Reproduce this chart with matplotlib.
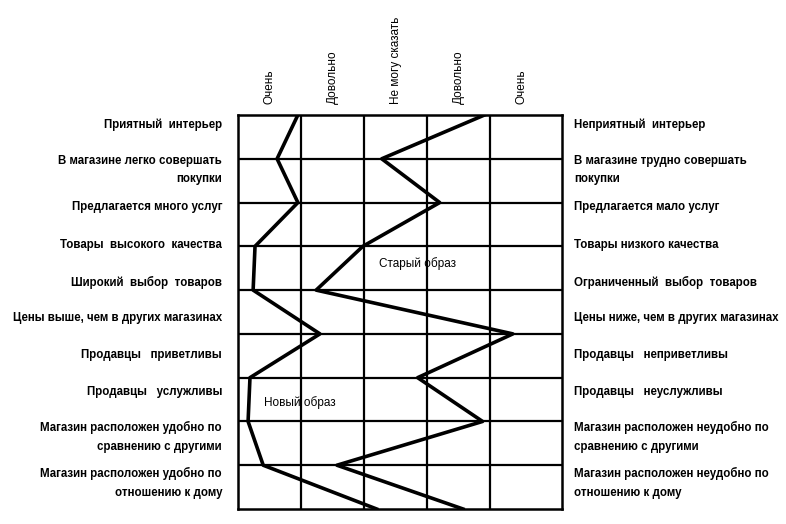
import matplotlib.pyplot as plt
import numpy as np

plt.rcParams['font.family'] = ['Liberation Sans', 'DejaVu Sans']

# Шкала
scale_labels = ['Очень', 'Довольно', 'Не могу сказать', 'Довольно', 'Очень']

left_labels = [
    'Приятный  интерьер',
    'В магазине легко совершать\nпокупки',
    'Предлагается много услуг',
    'Товары  высокого  качества',
    'Широкий  выбор  товаров',
    'Цены выше, чем в других магазинах',
    'Продавцы   приветливы',
    'Продавцы   услужливы',
    'Магазин расположен удобно по\nсравнению с другими',
    'Магазин расположен удобно по\nотношению к дому',
]
right_labels = [
    'Неприятный  интерьер',
    'В магазине трудно совершать\nпокупки',
    'Предлагается мало услуг',
    'Товары низкого качества',
    'Ограниченный  выбор  товаров',
    'Цены ниже, чем в других магазинах',
    'Продавцы   неприветливы',
    'Продавцы   неуслужливы',
    'Магазин расположен неудобно по\nсравнению с другими',
    'Магазин расположен неудобно по\nотношению к дому',
]

# значения по шкале (0 = левый край, 5 = правый край)
new_image = [0.95, 0.62, 0.95, 0.27, 0.24, 1.30, 0.19, 0.16, 0.40, 2.20]
old_image = [3.91, 2.28, 3.20, 1.98, 1.24, 4.36, 2.85, 3.88, 1.57, 3.57]

W, H = 786, 524
fig = plt.figure(figsize=(W / 100, H / 100), dpi=100)
ax = fig.add_axes([238 / W, 1 - 509 / H, (562 - 238) / W, (509 - 115) / H])

rows = np.arange(len(left_labels))
ax.set_xlim(0, 5.14)
ax.set_ylim(len(rows) - 1, 0)

# сетка
for xv in range(1, 5):
    ax.axvline(xv, color='black', lw=1.6, zorder=1)
for yv in rows[1:-1]:
    ax.axhline(yv, color='black', lw=1.6, zorder=1)
for s in ax.spines.values():
    s.set_linewidth(1.8)

ax.plot(new_image, rows, color='black', lw=2.6, zorder=3)
ax.plot(old_image, rows, color='black', lw=2.6, zorder=3)

ax.text(2.85, 3.39, 'Старый образ', fontsize=8.5, ha='center', va='center', zorder=0)
ax.text(0.98, 6.56, 'Новый образ', fontsize=8.5, ha='center', va='center', zorder=0)

# подписи шкалы сверху
ax.xaxis.tick_top()
ax.set_xticks(np.arange(len(scale_labels)) + 0.5)
ax.set_xticklabels(scale_labels, rotation=90, fontsize=8.5, va='bottom')
ax.tick_params(axis='x', length=0, pad=8)
ax.set_yticks([])

# подписи полюсов
label_px = [125, 170, 207, 245, 282, 318, 355, 392, 437, 483]
for lab, yp in zip(left_labels, label_px):
    fig.text(222 / W, 1 - yp / H, lab, ha='right', va='center', fontsize=8.3,
             fontweight='bold', linespacing=1.75, multialignment='right')
for lab, yp in zip(right_labels, label_px):
    fig.text(574 / W, 1 - yp / H, lab, ha='left', va='center', fontsize=8.3,
             fontweight='bold', linespacing=1.75, multialignment='left')

plt.savefig('out.png', dpi=100)
